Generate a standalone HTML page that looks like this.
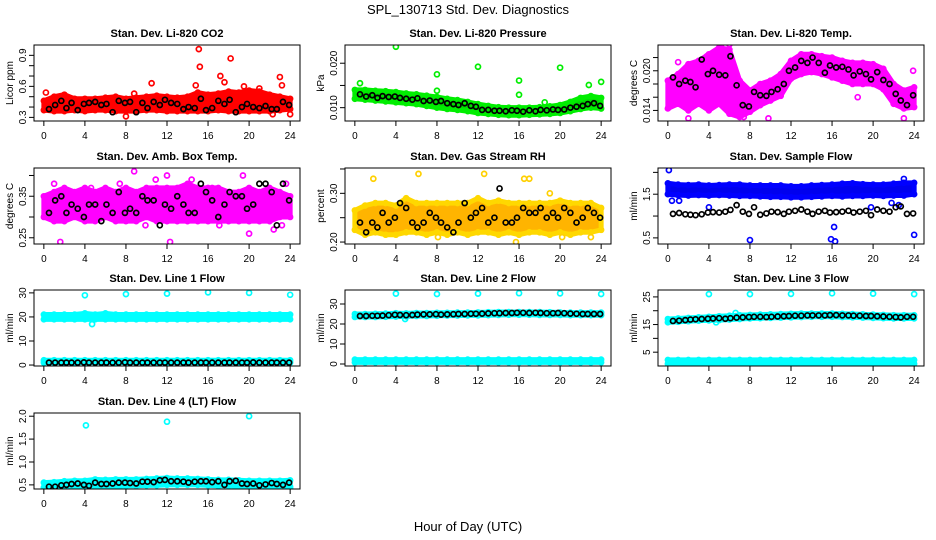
<!DOCTYPE html>
<html><head><meta charset="utf-8"><style>
html,body{margin:0;padding:0;background:#fff;}
svg{display:block;font-family:"Liberation Sans",Arial,sans-serif;}
</style></head><body>
<svg id="chart" width="936" height="540" viewBox="0 0 936 540" xmlns="http://www.w3.org/2000/svg">
<rect width="936" height="540" fill="#fff"/>
<text x="468" y="14" text-anchor="middle" font-size="13">SPL_130713  Std. Dev. Diagnostics</text>
<text x="468" y="531" text-anchor="middle" font-size="13">Hour of Day (UTC)</text>
<g id="panels"></g>
</svg>
<script>
// shared category arrays
const hours = [0,1,2,3,4,5,6,7,8,9,10,11,12,13,14,15,16,17,18,19,20,21,22,23,24];
const blackTimes = [0.5,1.1,1.7,2.2,2.7,3.3,3.9,4.4,5.0,5.6,6.1,6.7,7.3,7.9,8.4,9.0,9.6,10.1,10.7,11.3,11.8,12.4,13.0,13.6,14.1,14.7,15.3,15.8,16.4,17.0,17.6,18.1,18.7,19.3,19.8,20.4,21.0,21.6,22.2,22.7,23.3,23.9];
const xTicks = [0,4,8,12,16,20,24];

// CO2
const co2Lo = [0.37,0.36,0.36,0.37,0.36,0.37,0.37,0.36,0.36,0.36,0.37,0.37,0.36,0.36,0.36,0.36,0.36,0.37,0.36,0.36,0.36,0.36,0.36,0.37,0.38];
const co2Hi = [0.46,0.50,0.52,0.48,0.48,0.48,0.49,0.50,0.48,0.49,0.50,0.51,0.50,0.49,0.50,0.54,0.52,0.53,0.55,0.54,0.56,0.55,0.52,0.50,0.48];
const co2Black = [0.38,0.42,0.46,0.39,0.44,0.37,0.43,0.44,0.45,0.42,0.43,0.35,0.46,0.44,0.45,0.35,0.44,0.39,0.45,0.42,0.47,0.44,0.43,0.38,0.40,0.39,0.48,0.37,0.39,0.46,0.43,0.47,0.35,0.40,0.43,0.40,0.39,0.41,0.38,0.38,0.45,0.42];
const co2OutX = [15.1,15.2,18.2,17.2,23.0,10.5,23.2,14.8,8.0,22.3,24.0,19.5,17.6,21.0,0.2,8.8];
const co2OutY = [0.96,0.79,0.87,0.70,0.69,0.63,0.61,0.61,0.31,0.33,0.33,0.60,0.64,0.58,0.54,0.53];

// Pressure
const presLo = [.0120,.0118,.0116,.0114,.0112,.0110,.0108,.0104,.0100,.0097,.0095,.0092,.0088,.0086,.0084,.0083,.0083,.0084,.0085,.0086,.0088,.0092,.0097,.0100,.0098];
const presHi = [.0140,.0140,.0138,.0137,.0135,.0132,.0130,.0127,.0124,.0120,.0117,.0113,.0108,.0104,.0101,.0100,.0100,.0100,.0101,.0103,.0106,.0113,.0122,.0126,.0122];
const presBlack = [.0130,.0125,.0128,.0122,.0126,.0124,.0125,.0122,.0120,.0118,.0121,.0115,.0116,.0113,.0115,.0110,.0108,.0106,.0110,.0104,.0102,.0095,.0095,.0093,.0093,.0092,.0094,.0093,.0091,.0094,.0092,.0095,.0094,.0096,.0095,.0096,.0100,.0102,.0104,.0108,.0110,.0104];
const presOutX = [4.0,0.5,8.0,8.0,12.0,16.0,16.0,20.0,22.8,24.0,18.5];
const presOutY = [.0237,.0155,.0175,.0138,.0192,.0161,.0129,.0190,.0151,.0158,.0112];

// Li-820 Temp
const tempLo = [.0143,.0150,.0140,.0150,.0140,.0150,.0135,.0130,.0138,.0148,.0155,.0162,.0188,.0195,.0198,.0195,.0190,.0185,.0180,.0180,.0180,.0172,.0150,.0143,.0145];
const tempHi = [.0185,.0195,.0210,.0215,.0225,.0235,.0232,.0185,.0170,.0180,.0185,.0195,.0215,.0225,.0225,.0222,.0220,.0215,.0212,.0212,.0210,.0203,.0180,.0170,.0175];
const tempBlack = [.0190,.0180,.0185,.0183,.0175,.0217,.0195,.0200,.0194,.0193,.0222,.0178,.0148,.0146,.0168,.0163,.0162,.0168,.0172,.0180,.0200,.0205,.0215,.0212,.0220,.0212,.0197,.0208,.0205,.0206,.0202,.0193,.0199,.0195,.0187,.0198,.0186,.0180,.0165,.0155,.0148,.0163];
const tempOutX = [1.0,2.0,3.8,5.2,6.0,9.8,18.5,23.0,23.9,0.1,7.4];
const tempOutY = [.0213,.0128,.0222,.0240,.0240,.0128,.0160,.0128,.0200,.0145,.0130];

// Amb box temp
const ambLo = [.30,.29,.29,.30,.29,.29,.30,.29,.29,.29,.30,.29,.29,.29,.29,.29,.29,.29,.29,.29,.29,.29,.29,.30,.30];
const ambHi = [.35,.36,.37,.36,.37,.36,.37,.36,.37,.36,.37,.37,.37,.37,.38,.37,.37,.37,.36,.36,.37,.36,.37,.36,.35];
const ambBlack = [.31,.34,.35,.31,.33,.32,.30,.33,.33,.29,.33,.31,.36,.31,.32,.31,.35,.34,.34,.28,.33,.32,.35,.33,.31,.31,.38,.36,.34,.30,.33,.36,.35,.35,.32,.33,.38,.38,.36,.28,.38,.34];
const ambOutX = [0.1,1.0,1.6,7.4,8.8,10.9,12.3,14.4,16.4,19.4,20.0,23.2,23.6,22.4,4.6,12.0,9.9,17.1];
const ambOutY = [.34,.38,.24,.38,.41,.39,.24,.39,.37,.40,.26,.28,.38,.27,.37,.40,.28,.28];

// Gas stream RH
const rhLo = [.225,.215,.22,.215,.215,.22,.22,.215,.22,.215,.22,.215,.22,.22,.215,.22,.215,.22,.22,.215,.22,.215,.22,.22,.225];
const rhHi = [.265,.275,.28,.28,.275,.29,.28,.28,.28,.28,.28,.28,.29,.28,.285,.28,.28,.28,.28,.28,.285,.28,.28,.28,.27];
const rhBlack = [.24,.22,.24,.23,.26,.24,.25,.28,.27,.24,.23,.24,.26,.25,.24,.23,.22,.24,.28,.25,.26,.27,.24,.25,.31,.24,.24,.25,.27,.26,.26,.27,.25,.26,.25,.27,.26,.24,.25,.27,.26,.25];
const rhOutX = [1.8,12.6,16.5,17.0,20.2,8.1,19.0,6.2,15.7,23.0];
const rhOutY = [.33,.34,.33,.33,.21,.21,.30,.34,.20,.21];

// Sample flow
const sfLo = [1.50,1.48,1.47,1.48,1.47,1.48,1.47,1.46,1.46,1.45,1.44,1.44,1.43,1.43,1.44,1.45,1.46,1.45,1.46,1.46,1.47,1.46,1.47,1.47,1.50];
const sfHi = [1.75,1.72,1.71,1.72,1.70,1.71,1.72,1.72,1.70,1.70,1.70,1.70,1.68,1.68,1.70,1.71,1.72,1.74,1.75,1.73,1.72,1.72,1.74,1.76,1.76];
const sfBlack = [1.05,1.07,1.04,1.03,1.02,1.04,1.08,1.09,1.08,1.10,1.14,1.25,1.10,1.05,1.20,1.03,1.06,1.10,1.09,1.05,1.10,1.12,1.15,1.10,1.05,1.10,1.12,1.08,1.09,1.10,1.12,1.08,1.10,1.12,1.02,1.15,1.12,1.10,1.20,1.22,1.05,1.06];
const sfOutX = [0.1,0.4,1.1,8.0,15.9,16.2,16.3,24.0,19.8,21.8,22.5,23.0,4.0];
const sfOutY = [2.05,1.35,1.35,0.45,0.47,0.75,0.42,0.57,1.20,1.30,1.25,1.85,1.20];

// Line 1
const l1UpLo = [19,19,19,19,19,19,19,19,19,19,19,19,19,19,19,19,19,19,19,19,19,19,19,19,19];
const l1UpHi = [21,21,21,21,21.5,21,21.5,21,21,21,21,21,21,21,21,21,21,21,21,21,21,21,21,21,21];
const l1LowLo = [1.0,1.0,1.0,1.0,1.0,1.0,1.0,1.0,1.0,1.0,1.0,1.0,1.0,1.0,1.0,1.0,1.0,1.0,1.0,1.0,1.0,1.0,1.0,1.0,1.0];
const l1LowHi = [2.0,2.0,2.0,2.0,2.0,2.0,2.0,2.0,2.0,2.0,2.0,2.0,2.0,2.0,2.0,2.0,2.0,2.0,2.0,2.0,2.0,2.0,2.0,2.0,2.0];
const l1Black = [1.0,1.0,1.0,1.0,1.0,1.0,1.1,1.0,1.0,1.0,1.0,1.0,1.0,1.1,1.0,1.0,1.0,1.0,1.0,1.0,1.0,1.0,1.0,1.0,1.0,1.0,1.0,1.0,1.0,1.0,1.0,1.0,1.0,1.0,1.0,1.1,1.0,1.0,1.0,1.0,1.0,1.0];
const l1OutX = [4.0,8.0,12.0,16.0,20.0,24.0,4.7];
const l1OutY = [29,29.5,29.7,30.2,30,29.2,17];

// Line 2
const l2UpLo = [23.5,23.5,23.5,23.6,23.7,23.8,24.0,24.0,24.1,24.2,24.2,24.3,24.3,24.4,24.5,24.6,24.6,24.6,24.5,24.5,24.5,24.4,24.4,24.4,24.4];
const l2UpHi = [25.0,25.0,25.1,25.2,25.4,25.3,25.5,25.5,25.6,25.6,25.7,25.7,25.8,25.9,26.0,26.0,26.0,26.0,26.0,25.9,25.8,25.7,25.7,25.7,25.7];
const l2LowLo = [0.8,0.8,0.8,0.8,0.8,0.8,0.8,0.8,0.8,0.8,0.8,0.8,0.8,0.8,0.8,0.8,0.8,0.8,0.8,0.8,0.8,0.8,0.8,0.8,0.8];
const l2LowHi = [2.2,2.2,2.2,2.2,2.2,2.2,2.2,2.2,2.2,2.2,2.2,2.2,2.2,2.2,2.2,2.2,2.2,2.2,2.2,2.2,2.2,2.2,2.2,2.2,2.2];
const l2Black = [24.0,24.0,24.1,24.1,24.2,24.4,24.6,24.5,24.4,24.5,24.7,24.8,24.8,24.9,24.7,24.8,24.9,25.0,25.0,25.1,25.1,25.2,25.3,25.4,25.4,25.5,25.5,25.6,25.6,25.5,25.6,25.5,25.4,25.4,25.5,25.4,25.2,25.1,25.0,25.0,25.0,25.0];
const l2OutX = [4.0,8.0,12.0,16.0,20.0,24.0,4.9];
const l2OutY = [35.2,35.0,35.2,35.4,35.3,35.0,22.5];

// Line 3
const l3UpLo = [15.8,16.0,16.2,16.4,16.5,16.6,16.8,17.0,17.2,17.3,17.4,17.5,17.6,17.7,17.8,17.8,17.8,17.7,17.6,17.5,17.4,17.3,17.2,17.2,17.2];
const l3UpHi = [17.0,17.2,17.4,17.6,17.8,18.0,18.2,18.4,18.5,18.6,18.7,18.8,18.9,19.0,19.0,19.0,19.0,18.9,18.8,18.7,18.6,18.5,18.4,18.4,18.4];
const l3LowLo = [0.8,0.8,0.8,0.8,0.8,0.8,0.8,0.8,0.8,0.8,0.8,0.8,0.8,0.8,0.8,0.8,0.8,0.8,0.8,0.8,0.8,0.8,0.8,0.8,0.8];
const l3LowHi = [2.2,2.2,2.2,2.2,2.2,2.2,2.2,2.2,2.2,2.2,2.2,2.2,2.2,2.2,2.2,2.2,2.2,2.2,2.2,2.2,2.2,2.2,2.2,2.2,2.2];
const l3Black = [16.3,16.4,16.6,16.8,16.9,17.0,17.1,17.2,17.3,17.1,17.3,17.5,17.6,17.7,17.8,17.8,17.7,17.8,17.9,18.0,18.1,18.2,18.2,18.3,18.3,18.3,18.3,18.4,18.4,18.3,18.3,18.2,18.2,18.1,18.1,18.0,17.9,17.8,17.7,17.6,17.8,17.8];
const l3OutX = [4.0,8.0,12.0,16.0,20.0,24.0,4.7,6.6];
const l3OutY = [26,26,26.1,26.3,26.2,26,15.8,19.2];

// Line 4
const l4Lo = [0.44,0.44,0.45,0.45,0.45,0.46,0.47,0.47,0.48,0.48,0.49,0.49,0.50,0.50,0.50,0.50,0.49,0.48,0.48,0.47,0.46,0.46,0.46,0.46,0.46];
const l4Hi = [0.55,0.56,0.58,0.59,0.59,0.62,0.61,0.62,0.62,0.62,0.63,0.64,0.65,0.64,0.64,0.63,0.62,0.61,0.61,0.60,0.59,0.59,0.59,0.59,0.60];
const l4Black = [0.46,0.46,0.49,0.50,0.52,0.53,0.50,0.48,0.55,0.52,0.52,0.53,0.55,0.55,0.54,0.53,0.57,0.57,0.56,0.60,0.61,0.58,0.58,0.57,0.55,0.57,0.58,0.58,0.56,0.58,0.50,0.58,0.59,0.53,0.52,0.53,0.49,0.51,0.54,0.52,0.50,0.55];
const l4OutX = [4.1,12.0,20.0,24.0];
const l4OutY = [1.80,1.88,2.00,0.42];

const NS = "http://www.w3.org/2000/svg";
const root = document.getElementById('panels');
function mk(tag, attrs, parent){ const e=document.createElementNS(NS,tag); for(const k in attrs) e.setAttribute(k,attrs[k]); parent.appendChild(e); return e; }

const colLeft = [34, 345, 658];
const rowTop = [45, 168, 290, 413];
const W = 266, H = 76;

function panel(p){
  const L = colLeft[p.col], T = rowTop[p.row];
  const g = mk('g',{},root);
  
  
  const xs = v => L + (v + 0.96) / 25.92 * W;
  const ys = v => T + H - (v - p.ylim[0]) / (p.ylim[1] - p.ylim[0]) * H;
  const t = mk('text',{x:L+W/2,y:T-8,'text-anchor':'middle','font-size':'11','font-weight':'bold'},g);
  t.textContent = p.title;
  
  
  const clip = 'clip-' + p.name;
  const cp = mk('clipPath',{id:clip},g);
  mk('rect',{x:L,y:T,width:W,height:H},cp);
  const pg = mk('g',{'clip-path':'url(#'+clip+')'},g);
  
  
  function band(lo, hi, fill, stroke, nm){
    let d = '';
    hours.forEach((h,i)=>{ d += (i?'L':'M') + xs(h) + ' ' + ys(hi[i]); });
    for(let i=hours.length-1;i>=0;i--) d += 'L' + xs(hours[i]) + ' ' + ys(lo[i]);
    const b = mk('path',{d:d+'Z',fill:fill,stroke:stroke,'stroke-width':'5','stroke-linejoin':'round'},pg);
    
    
    hours.forEach((h,i)=>{
      [lo[i],hi[i]].forEach(v=>{
        const c = mk('circle',{cx:xs(h),cy:ys(v),r:2.5,fill:'none',stroke:stroke,'stroke-width':1.6},pg);
        
        
      });
    });
  }
  function pts(X, Y, color, nm){
    X.forEach((x,i)=>{
      const c = mk('circle',{cx:xs(x),cy:ys(Y[i]),r:2.5,fill:'none',stroke:color,'stroke-width':1.7},pg);
      
      
    });
  }
  p.bands.forEach(b=>band(b[0],b[1],b[2],b[3],p.name+'-band'));
  pts(p.outX, p.outY, p.outColor, p.name+'-outlier');
  pts(blackTimes, p.black, '#000', p.name+'-black-point');
  const box = mk('rect',{x:L,y:T,width:W,height:H,fill:'none',stroke:'#000','stroke-width':1},g);
  
  
  xTicks.forEach(v=>{
    mk('line',{x1:xs(v),x2:xs(v),y1:T+H,y2:T+H+5,stroke:'#000'},g);
    const tl = mk('text',{x:xs(v),y:T+H+18,'text-anchor':'middle','font-size':'10'},g);
    tl.textContent = v;
    
    
  });
  p.yticks.forEach((v,i)=>{
    mk('line',{x1:L-5,x2:L,y1:ys(v),y2:ys(v),stroke:'#000'},g);
    const lab = p.ylabels[i];
    if(lab){
      const tl = mk('text',{x:L-8,y:ys(v),'text-anchor':'middle','font-size':'10',transform:'rotate(-90 '+(L-8)+' '+ys(v)+')'},g);
      tl.textContent = lab;
      
      
    }
  });
  const yt = mk('text',{x:L-21,y:T+H/2,'text-anchor':'middle','font-size':'10',transform:'rotate(-90 '+(L-21)+' '+(T+H/2)+')'},g);
  yt.textContent = p.ylab;
  
  
}

panel({name:'co2',col:0,row:0,title:'Stan. Dev. Li-820 CO2',ylab:'Licor ppm',ylim:[0.265,1.0],
  yticks:[0.3,0.4,0.5,0.6,0.7,0.8,0.9],ylabels:['0.3','','','0.6','','','0.9'],
  bands:[[co2Lo,co2Hi,'#ff0000','#ff0000']],outX:co2OutX,outY:co2OutY,outColor:'#ff0000',black:co2Black});
panel({name:'pressure',col:1,row:0,title:'Stan. Dev. Li-820 Pressure',ylab:'kPa',ylim:[0.0070,0.0241],
  yticks:[0.010,0.015,0.020],ylabels:['0.010','','0.020'],
  bands:[[presLo,presHi,'#00dd00','#00ee00']],outX:presOutX,outY:presOutY,outColor:'#00ee00',black:presBlack});
panel({name:'li820-temp',col:2,row:0,title:'Stan. Dev. Li-820 Temp.',ylab:'degrees C',ylim:[0.0124,0.0239],
  yticks:[0.014,0.016,0.018,0.020,0.022],ylabels:['0.014','','','0.020',''],
  bands:[[tempLo,tempHi,'#ff00ff','#ff00ff']],outX:tempOutX,outY:tempOutY,outColor:'#ff00ff',black:tempBlack});
panel({name:'amb-box-temp',col:0,row:1,title:'Stan. Dev. Amb. Box Temp.',ylab:'degrees C',ylim:[0.235,0.418],
  yticks:[0.25,0.30,0.35,0.40],ylabels:['0.25','','0.35',''],
  bands:[[ambLo,ambHi,'#ff00ff','#ff00ff']],outX:ambOutX,outY:ambOutY,outColor:'#ff00ff',black:ambBlack});
panel({name:'gas-rh',col:1,row:1,title:'Stan. Dev. Gas Stream RH',ylab:'percent',ylim:[0.196,0.352],
  yticks:[0.20,0.25,0.30,0.35],ylabels:['0.20','','0.30',''],
  bands:[[rhLo,rhHi,'#ffb400','#ffd800']],outX:rhOutX,outY:rhOutY,outColor:'#ffd000',black:rhBlack});
panel({name:'sample-flow',col:2,row:1,title:'Stan. Dev. Sample Flow',ylab:'ml/min',ylim:[0.36,2.1],
  yticks:[0.5,1.0,1.5,2.0],ylabels:['0.5','','1.5',''],
  bands:[[sfLo,sfHi,'#0000ee','#0000ff']],outX:sfOutX,outY:sfOutY,outColor:'#0000ff',black:sfBlack});
panel({name:'line1-flow',col:0,row:2,title:'Stan. Dev. Line 1 Flow',ylab:'ml/min',ylim:[-0.4,31.2],
  yticks:[0,10,20,30],ylabels:['0','10','20','30'],
  bands:[[l1UpLo,l1UpHi,'#00ffff','#00ffff'],[l1LowLo,l1LowHi,'#00ffff','#00ffff']],outX:l1OutX,outY:l1OutY,outColor:'#00ffff',black:l1Black});
panel({name:'line2-flow',col:1,row:2,title:'Stan. Dev. Line 2 Flow',ylab:'ml/min',ylim:[-1,37],
  yticks:[0,10,20,30],ylabels:['0','10','20','30'],
  bands:[[l2UpLo,l2UpHi,'#00ffff','#00ffff'],[l2LowLo,l2LowHi,'#00ffff','#00ffff']],outX:l2OutX,outY:l2OutY,outColor:'#00ffff',black:l2Black});
panel({name:'line3-flow',col:2,row:2,title:'Stan. Dev. Line 3 Flow',ylab:'ml/min',ylim:[0,27.5],
  yticks:[5,10,15,20,25],ylabels:['5','','15','','25'],
  bands:[[l3UpLo,l3UpHi,'#00ffff','#00ffff'],[l3LowLo,l3LowHi,'#00ffff','#00ffff']],outX:l3OutX,outY:l3OutY,outColor:'#00ffff',black:l3Black});
panel({name:'line4-flow',col:0,row:3,title:'Stan. Dev. Line 4 (LT) Flow',ylab:'ml/min',ylim:[0.41,2.07],
  yticks:[0.5,1.0,1.5,2.0],ylabels:['0.5','1.0','1.5','2.0'],
  bands:[[l4Lo,l4Hi,'#00ffff','#00ffff']],outX:l4OutX,outY:l4OutY,outColor:'#00ffff',black:l4Black});
</script>
</body></html>
